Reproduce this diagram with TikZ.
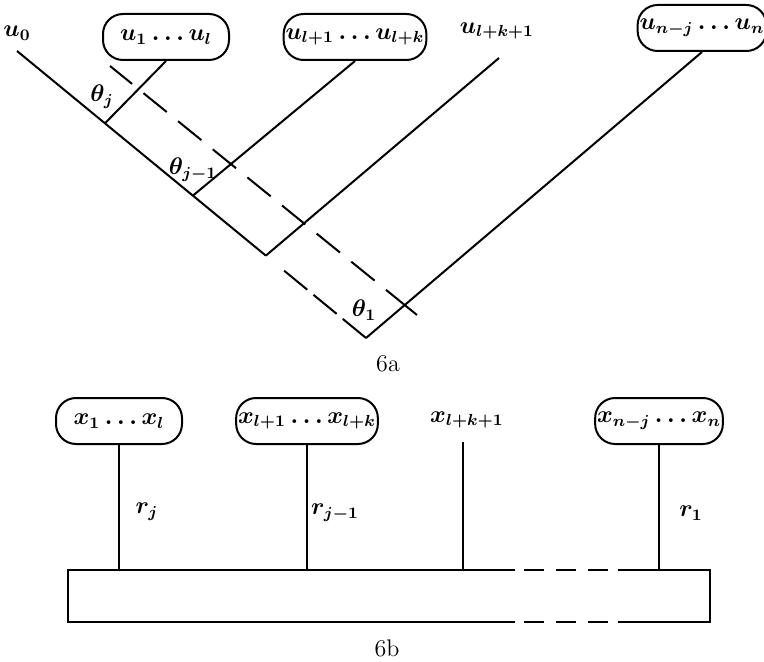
\documentclass[tikz,border=0pt]{standalone}
\usetikzlibrary{calc}
\begin{document}
\begin{tikzpicture}[x=0.5pt,y=-0.5pt, line width=1pt,
  every node/.style={font=\large\boldmath},
  rbox/.style={draw, rounded corners=10pt, minimum width=63pt, minimum height=23pt, inner sep=1pt},
  lbl/.style={inner sep=0pt},
  longdash/.style={dash pattern=on 20pt off 7.3pt on 15pt off 7.3pt on 15pt off 7.3pt on 15pt off 7.3pt on 15pt off 7.3pt on 15pt off 7.3pt on 15pt off 7.3pt on 15pt off 7.3pt on 15pt off 7.3pt},
  tipdash/.style={dash pattern=on 15pt off 4pt},
  boxdash/.style={dash pattern=on 10pt off 6pt}]
\useasboundingbox (0,0) rectangle (764,662);
% ---------- 6a ----------
\node[lbl] (u0) at (17,33) {$u_0$};
\coordinate (s) at (17,51);
\coordinate (v) at (366,338);
\node[rbox] (b1) at (166,37) {$u_1\ldots u_l$};
\node[rbox] (b2) at (355,37) {$u_{l+1}\ldots u_{l+k}$};
\node[lbl] (b3) at (497,31) {$u_{l+k+1}$};
\coordinate (t3) at (499,58);
\node[rbox] (b4) at (702,28) {$u_{n-j}\ldots u_n$};
\coordinate (j1) at ($(s)!0.252!(v)$);
\coordinate (j2) at ($(s)!0.504!(v)$);
\coordinate (j3) at ($(s)!0.713!(v)$);
\coordinate (j4) at ($(s)!0.748!(v)$);
\draw (s) -- (j3);
\draw[tipdash] (v) -- (j4);
\draw (j1) -- (b1.south);
\draw (j2) -- (b2.south);
\draw (j3) -- (t3);
\draw (v) -- (b4.south);
\coordinate (d0) at (110,66);
\coordinate (d1) at (417,315);
\draw[longdash] (d1) -- (d0);
\node[lbl] (th1) at (102,97) {$\theta_j$};
\node[lbl] (th2) at (193,170) {$\theta_{j-1}$};
\node[lbl] (th3) at (364,310) {$\theta_1$};
\node[lbl] (c6a) at (388,364) {6a};
% ---------- 6b ----------
\node[rbox] (x1) at (119,421) {$x_1\ldots x_l$};
\node[rbox] (x2) at (307,421) {$x_{l+1}\ldots x_{l+k}$};
\node[lbl] (x3) at (467,420) {$x_{l+k+1}$};
\coordinate (x3b) at (463,442);
\node[rbox] (x4) at (659,421) {$x_{n-j}\ldots x_n$};
\coordinate (ra) at (68,570);
\coordinate (rb) at (710,622);
\coordinate (ta) at (515,570);
\coordinate (tb) at (524,570);
\coordinate (tc) at (608,570);
\coordinate (td) at (618,570);
\coordinate (ba) at (515,622);
\coordinate (bb) at (524,622);
\coordinate (bc) at (608,622);
\coordinate (bd) at (618,622);
\draw (ta) -- (ra) -- (ra |- rb) -- (ba);
\draw (td) -- (rb |- ra) -- (rb) -- (bd);
\draw[boxdash] (tb) -- (tc);
\draw[boxdash] (bb) -- (bc);
\draw (x1.south) -- (x1.south |- ra);
\draw (x2.south) -- (x2.south |- ra);
\draw (x3b) -- (x3b |- ra);
\draw (x4.south) -- (x4.south |- ra);
\node[lbl] (r1) at (147,512) {$r_j$};
\node[lbl] (r2) at (335,513) {$r_{j-1}$};
\node[lbl] (r3) at (691,513) {$r_1$};
\node[lbl] (c6b) at (387,648) {6b};
\end{tikzpicture}
\end{document}
